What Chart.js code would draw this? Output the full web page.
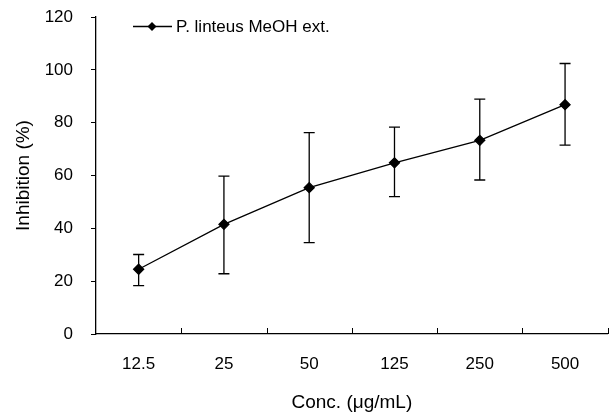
<!DOCTYPE html>
<html>
<head>
<meta charset="utf-8">
<script src="https://cdn.jsdelivr.net/npm/chart.js@4"></script>
<style>
  html, body { margin: 0; padding: 0; background: #fff; }
  #wrap { width: 614px; height: 414px; position: relative; }
</style>
</head>
<body>
<div id="wrap"><canvas id="chart"></canvas></div>
<script>
/* ─── Data ───────────────────────────────────────────────────────────────── */
const concLabels = ['12.5', '25', '50', '125', '250', '500'];
const inhibition = [24.5, 41.5, 55.4, 64.8, 73.3, 86.8];
const errUpper   = [30.1, 59.8, 76.2, 78.3, 88.9, 102.4];
const errLower   = [18.3, 22.8, 34.6, 52.0, 58.3, 71.5];
const yTicks     = [0, 20, 40, 60, 80, 100, 120];

const FONT = 'Arial, "Liberation Sans", sans-serif';

/* ─── Error bars, inward x ticks, legend ─────────────────────────────────── */
const extras = {
  id: 'extras',
  afterDatasetsDraw(chart) {
    const { ctx, scales: { x, y }, chartArea } = chart;
    ctx.save();
    ctx.strokeStyle = '#000';
    ctx.lineWidth = 1.3;
    const cap = 5.5;
    inhibition.forEach((_, i) => {
      const px = x.getPixelForValue(i);
      const yt = y.getPixelForValue(errUpper[i]);
      const yb = y.getPixelForValue(errLower[i]);
      ctx.beginPath();
      ctx.moveTo(px, yt); ctx.lineTo(px, yb);
      ctx.moveTo(px - cap, yt); ctx.lineTo(px + cap, yt);
      ctx.moveTo(px - cap, yb); ctx.lineTo(px + cap, yb);
      ctx.stroke();
    });

    // x tick marks between categories, pointing up
    ctx.lineWidth = 1;
    const step = (chartArea.right - chartArea.left) / concLabels.length;
    for (let i = 1; i <= concLabels.length; i++) {
      const tx = Math.round(chartArea.left + step * i) + 0.5;
      ctx.beginPath();
      ctx.moveTo(tx, chartArea.bottom);
      ctx.lineTo(tx, chartArea.bottom - 6);
      ctx.stroke();
    }

    // legend
    const ly = chartArea.top + 9.5;
    const lx = chartArea.left + 37;
    ctx.lineWidth = 1.3;
    ctx.beginPath();
    ctx.moveTo(lx, ly); ctx.lineTo(lx + 39, ly);
    ctx.stroke();
    ctx.fillStyle = '#000';
    ctx.beginPath();
    const d = 4.5, cx = lx + 19;
    ctx.moveTo(cx, ly - d); ctx.lineTo(cx + d, ly);
    ctx.lineTo(cx, ly + d); ctx.lineTo(cx - d, ly);
    ctx.closePath(); ctx.fill();
    ctx.font = '17px ' + FONT;
    ctx.textBaseline = 'middle';
    ctx.fillText(chart.data.datasets[0].label, lx + 43, ly + 1);
    ctx.restore();
  }
};

/* ─── Chart ──────────────────────────────────────────────────────────────── */
new Chart(document.getElementById('chart'), {
  type: 'line',
  data: {
    labels: concLabels,
    datasets: [{
      label: 'P. linteus MeOH ext.',
      data: inhibition,
      borderColor: '#000',
      borderWidth: 1.3,
      pointStyle: 'rectRot',
      pointRadius: 5,
      pointBackgroundColor: '#000',
      pointBorderColor: '#000',
      tension: 0
    }]
  },
  options: {
    responsive: true,
    maintainAspectRatio: false,
    animation: false,
    layout: { padding: { top: 17, right: 4, left: 0, bottom: 0 } },
    plugins: { legend: { display: false }, tooltip: { enabled: false } },
    scales: {
      x: {
        offset: true,
        grid: { display: false, drawTicks: false },
        border: { color: '#000', width: 1.3 },
        ticks: { color: '#000', font: { family: FONT, size: 17 }, padding: 20, maxRotation: 0 },
        title: {
          display: true, text: 'Conc. (μg/mL)', color: '#000',
          font: { family: FONT, size: 19 }, padding: { top: 0, bottom: 0 }
        },
        afterFit(s) { s.height = 80; }
      },
      y: {
        min: 0, max: 120,
        afterBuildTicks(s) { s.ticks = yTicks.map(v => ({ value: v })); },
        grid: { drawOnChartArea: false, tickLength: 5, color: '#000' },
        border: { color: '#000', width: 1.3 },
        ticks: { color: '#000', font: { family: FONT, size: 17 }, padding: 18 },
        title: {
          display: true, text: 'Inhibition (%)', color: '#000',
          font: { family: FONT, size: 19 }, padding: { top: 12, bottom: 0 }
        },
        afterFit(s) { s.width = 96; s.paddingTop = 0; s.paddingBottom = 0; }
      }
    }
  },
  plugins: [extras]
});
</script>
</body>
</html>
